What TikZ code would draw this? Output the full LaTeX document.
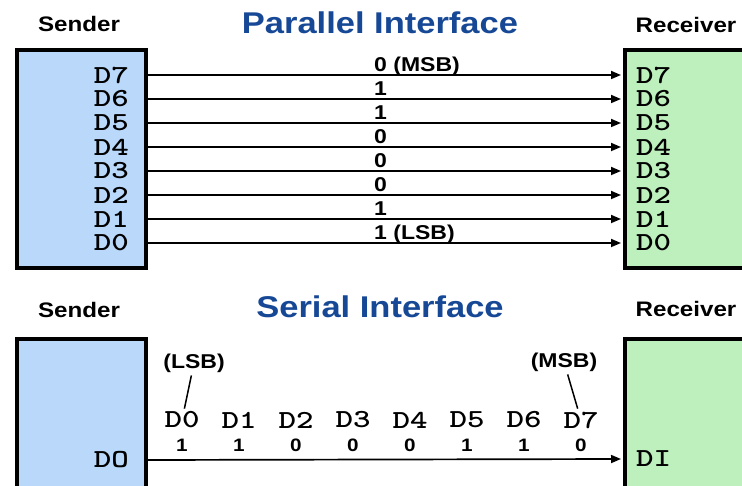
\documentclass[tikz,border=0pt]{standalone}
\usepackage{fontspec}
\setmainfont{Liberation Sans}[FakeStretch=1.15]
\newfontfamily\pinfont{lmmonolt10-bold.otf}[FakeStretch=1.28]
\usetikzlibrary{arrows.meta}
\definecolor{sendblue}{RGB}{185,216,250}
\definecolor{recvgreen}{RGB}{190,240,190}
\definecolor{titleblue}{RGB}{22,72,150}
\tikzset{
  unit/.style={draw, line width=4pt, anchor=north west, inner sep=0pt},
  pin/.style={font=\pinfont\fontsize{26}{26}\selectfont, inner sep=0pt},
  bit/.style={font=\bfseries\fontsize{20}{20}\selectfont, inner sep=0pt},
  smallbit/.style={font=\bfseries\fontsize{18}{18}\selectfont, inner sep=0pt},
  role/.style={font=\bfseries\fontsize{21}{21}\selectfont, inner sep=0pt, anchor=base},
  heading/.style={font=\bfseries\fontsize{30}{30}\selectfont, text=titleblue, inner sep=0pt, anchor=base},
  wire/.style={line width=1.7pt, shorten >=2pt, -{Triangle[length=10pt,width=8pt]}},
  leader/.style={line width=1.5pt, shorten <=3pt, shorten >=3pt}
}
\begin{document}
\begin{tikzpicture}[x=1pt, y=-1pt]
    \useasboundingbox (0,0) rectangle (742,486);
    \clip (0,0) rectangle (742,486);
    \fill[white] (0,0) rectangle (742,486);

    % parallel
    \node[heading] (ptitle) at (380,34) {Parallel Interface};
    \node[role] (psend) at (79,32) {Sender};
    \node[role] (precv) at (686,33) {Receiver};
    \node[unit, fill=sendblue, minimum width=129pt, minimum height=218pt] (ps) at (14.5,48) {};
    \node[unit, fill=recvgreen, minimum width=140pt, minimum height=218pt] (pr) at (623,48) {};

    \foreach \k/\b [count=\r from 0] in {7/0 (MSB),6/1,5/1,4/0,3/0,2/0,1/1,0/1 (LSB)} {
        \node[pin, anchor=east] (s\k) at (129,75+24*\r) {D\k};
        \node[pin, anchor=west] (r\k) at (636,75+24*\r) {D\k};
        \draw[wire] (ps.east |- s\k) -- (pr.west |- r\k);
        \node[bit, anchor=base west] (b\k) at (374,72+24*\r) {\b};
    }

    % serial
    \node[heading] (stitle) at (380,318) {Serial Interface};
    \node[role] (ssend) at (79,318) {Sender};
    \node[role] (srecv) at (686,317) {Receiver};
    \node[unit, fill=sendblue, minimum width=129pt, minimum height=170pt] (ss) at (14.5,337) {};
    \node[unit, fill=recvgreen, minimum width=140pt, minimum height=170pt] (sr) at (623,337) {};

    \node[pin, anchor=east] (dout) at (129,460) {DO};
    \node[pin, anchor=west] (din) at (636,459) {DI};
    \draw[wire] (ss.east |- dout) -- (sr.west |- din);

    \foreach \k/\b in {0/1,1/1,2/0,3/0,4/0,5/1,6/1,7/0} {
        \node[pin] (d\k) at (182+57*\k,420) {D\k};
        \node[smallbit] (v\k) at (182+57*\k,445) {\b};
    }

    \node[bit] (lsb) at (194,363) {(LSB)};
    \node[bit] (msb) at (564,362) {(MSB)};
    \draw[leader] (lsb) -- (d0);
    \draw[leader] (msb) -- (d7);
\end{tikzpicture}
\end{document}
